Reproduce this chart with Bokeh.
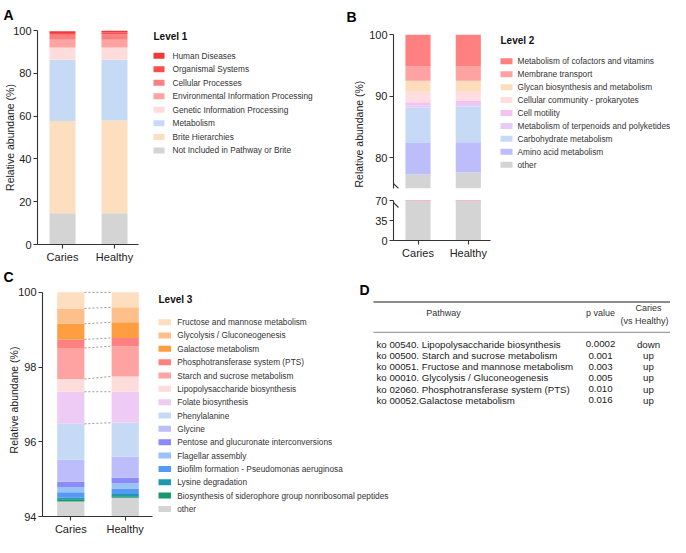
import numpy as np
from bokeh.plotting import figure
from bokeh.models import ColumnDataSource, Range1d, FixedTicker, Title
from bokeh.layouts import row, column
from bokeh.core.properties import value
from bokeh.embed import file_html
from bokeh.resources import INLINE

FONT = "Liberation Sans"

# ---------------- data ----------------
groups = ["Caries", "Healthy"]
group_x = [1, 2]

# Level 1 (legend order: top of stack first)
level1_labels = ["Human Diseases", "Organismal Systems", "Cellular Processes",
                 "Environmental Information Processing", "Genetic Information Processing",
                 "Metabolism", "Brite Hierarchies", "Not Included in Pathway or Brite"]
level1_caries = [0.8, 0.8, 2.3, 3.6, 5.8, 28.6, 43.1, 14.6]
level1_healthy = [0.9, 0.8, 2.6, 3.6, 5.8, 28.3, 43.4, 14.6]
level1_colors = ["#F03A3A", "#FF4C4C", "#F98080", "#FFA2A2", "#FFDCDC",
                 "#C6DAF6", "#FDDEBF", "#D4D4D4"]
level1_ticks = [0, 20, 40, 60, 80, 100]

# Level 2
level2_labels = ["Metabolism of cofactors and vitamins", "Membrane transport",
                 "Glycan biosynthesis and metabolism", "Cellular community - prokaryotes",
                 "Cell motility", "Metabolism of terpenoids and polyketides",
                 "Carbohydrate metabolism", "Amino acid metabolism", "other"]
level2_caries = [5.2, 2.3, 1.8, 1.7, 0.5, 0.4, 5.7, 5.1, 77.3]
level2_healthy = [5.1, 2.4, 1.8, 1.5, 0.5, 0.4, 5.8, 4.9, 77.6]
level2_colors = ["#FF8080", "#FFA2A2", "#FDDDBB", "#FFDDE0", "#F4C2F2", "#E6CCF8",
                 "#C6DAF6", "#BDBDFC", "#D4D4D4"]
level2_upper_ticks = [80, 90, 100]
level2_lower_ticks = [0, 35, 70]

# Level 3
level3_labels = ["Fructose and mannose metabolism", "Glycolysis / Gluconeogenesis",
                 "Galactose metabolism", "Phosphotransferase system (PTS)",
                 "Starch and sucrose metabolism", "Lipopolysaccharide biosynthesis",
                 "Folate biosynthesis", "Phenylalanine", "Glycine",
                 "Pentose and glucuronate interconversions", "Flagellar assembly",
                 "Biofilm formation - Pseudomonas aeruginosa", "Lysine degradation",
                 "Biosynthesis of siderophore group nonribosomal peptides", "other"]
level3_caries = [0.43, 0.41, 0.42, 0.23, 0.83, 0.34, 0.86, 0.96, 0.59, 0.14, 0.14,
                 0.15, 0.04, 0.06, 94.40]
level3_healthy = [0.40, 0.40, 0.42, 0.22, 0.81, 0.41, 0.83, 0.91, 0.56, 0.15, 0.14,
                  0.15, 0.06, 0.04, 94.50]
level3_colors = ["#FDDEBF", "#FDC08A", "#FF9E40", "#FF8080", "#FFA2A2", "#FFDCDC",
                 "#EECBF5", "#C6DAF6", "#BDBDFC", "#8A8AF8", "#99C2F7", "#5599F5",
                 "#1E9AB0", "#16976E", "#D4D4D4"]
level3_ticks = [94, 96, 98, 100]
level3_linked = 8  # top segments joined by dotted lines

# Table D
table_pathways = ["ko 00540. Lipopolysaccharide biosynthesis",
                  "ko 00500. Starch and sucrose metabolism",
                  "ko 00051. Fructose and mannose metabolism",
                  "ko 00010. Glycolysis / Gluconeogenesis",
                  "ko 02060. Phosphotransferase system (PTS)",
                  "ko 00052.Galactose metabolism"]
table_pvalues = ["0.0002", "0.001", "0.003", "0.005", "0.010", "0.016"]
table_direction = ["down", "up", "up", "up", "up", "up"]

BAR_W = 0.5


# ---------------- helpers ----------------
class Frame:
    """Plot frame in page pixels and its data ranges."""
    def __init__(self, left, top, right, bottom, x0, x1, y0, y1):
        self.left, self.top, self.right, self.bottom = left, top, right, bottom
        self.x0, self.x1, self.y0, self.y1 = x0, x1, y0, y1

    def x(self, px):
        return self.x0 + (px - self.left) / (self.right - self.left) * (self.x1 - self.x0)

    def y(self, py):
        return self.y1 - (py - self.top) / (self.bottom - self.top) * (self.y1 - self.y0)


def x_from(center_px, ppu, left, right):
    x0 = 1 - (center_px - left) / ppu
    return x0, x0 + (right - left) / ppu


def make_fig(fl, ft, w, h, fr, x_axis=True):
    p = figure(width=w, height=h,
               x_range=Range1d(fr.x0, fr.x1), y_range=Range1d(fr.y0, fr.y1),
               output_backend="svg", toolbar_location=None,
               x_axis_location="below" if x_axis else None,
               min_border_left=int(round(fr.left - fl)), min_border_top=int(round(fr.top - ft)),
               min_border_right=int(round(fl + w - fr.right)),
               min_border_bottom=int(round(ft + h - fr.bottom)))
    p.outline_line_color = None
    p.background_fill_color = "white"
    p.border_fill_color = "white"
    for g in p.grid:
        g.visible = False
    for ax in p.axis:
        ax.axis_line_color = "#333333"
        ax.axis_line_width = 1.1
        ax.major_tick_line_color = "#333333"
        ax.major_tick_line_width = 1.1
        ax.major_tick_out = 4
        ax.major_tick_in = 0
        ax.minor_tick_line_color = None
        ax.major_label_text_font = FONT
        ax.major_label_text_font_size = "11px"
        ax.major_label_text_color = "#222222"
        ax.major_label_standoff = 2
        ax.axis_label_text_font = FONT
        ax.axis_label_text_font_size = "10.5px"
        ax.axis_label_text_font_style = "normal"
        ax.axis_label_text_color = "#222222"
    return p


def set_standoff(t, s):
    try:
        t.standoff = s
    except Exception:
        pass


def letter(p, text, offset, standoff, valign):
    p.title.text = text
    p.title.align = "left"
    p.title.offset = offset
    p.title.vertical_align = valign
    p.title.text_font = FONT
    p.title.text_font_size = "14px"
    p.title.text_font_style = "bold"
    p.title.text_color = "#000000"
    set_standoff(p.title, standoff)


def set_x_axis(p, bound_start, bound_end):
    p.xaxis.ticker = FixedTicker(ticks=group_x)
    p.xaxis.major_label_overrides = {gx: g for gx, g in zip(group_x, groups)}
    p.xaxis.bounds = (bound_start, bound_end)


def stack_bars(p, labels, car, hea, colors):
    keys = ["s%d" % i for i in range(len(labels))]
    data = {"x": group_x}
    for k, c, h in zip(keys, car, hea):
        data[k] = [c, h]
    src = ColumnDataSource(data)
    return p.vbar_stack(keys[::-1], x="x", width=BAR_W, source=src,
                        fill_color=colors[::-1], line_color=None)


def draw_legend(p, fr, title, labels, colors, left, title_cy, first_cy, pitch,
                sw_w, sw_h, text_left):
    n = len(labels)
    p.text(x=[fr.x(left)], y=[fr.y(title_cy)], text=[title],
           text_font=value(FONT), text_font_size="10px", text_font_style="bold",
           text_baseline="middle", text_align="left", text_color="#111111")
    ys = [fr.y(first_cy + i * pitch) for i in range(n)]
    p.rect(x=[fr.x(left + sw_w / 2)] * n, y=ys, width=sw_w, height=sw_h,
           width_units="screen", height_units="screen",
           fill_color=colors, line_color=None)
    p.text(x=[fr.x(text_left)] * n, y=ys, text=labels,
           text_font=value(FONT), text_font_size="8.3px",
           text_baseline="middle", text_align="left", text_color="#333333")


# ---------------- Panel A ----------------
ax0, ax1 = x_from(62, 52, 37, 343)
FA = Frame(37, 29, 343, 244, ax0, ax1, 0, 100)
pA = make_fig(0, 0, 343, 265, FA)
stack_bars(pA, level1_labels, level1_caries, level1_healthy, level1_colors)
set_x_axis(pA, ax0, 2.47)
pA.yaxis.ticker = FixedTicker(ticks=level1_ticks)
pA.yaxis.axis_label = "Relative abundane (%)"
pA.yaxis.axis_label_standoff = -6
draw_legend(pA, FA, "Level 1", level1_labels, level1_colors,
            153, 35, 54.3, 13.6, 11, 6, 172)
letter(pA, "A", 3 - 37, 12, "top")

# ---------------- Panel B (broken axis) ----------------
bx0, bx1 = x_from(417.5, 50.3, 393, 670)
FBu = Frame(393, 33, 670, 188, bx0, bx1, 75, 100)
FBl = Frame(393, 200, 670, 240, bx0, bx1, 0, 70)
pBu = make_fig(343, 0, 327, 194, FBu, x_axis=False)
pBl = make_fig(343, 194, 327, 71, FBl)
pBl.x_range = pBu.x_range
stack_bars(pBu, level2_labels, level2_caries, level2_healthy, level2_colors)
stack_bars(pBl, level2_labels, level2_caries, level2_healthy, level2_colors)
pBu.yaxis.ticker = FixedTicker(ticks=level2_upper_ticks)
pBl.yaxis.ticker = FixedTicker(ticks=level2_lower_ticks)
set_x_axis(pBl, bx0, 2.45)
draw_legend(pBu, FBu, "Level 2", level2_labels, level2_colors,
            500, 39, 60, 13, 12, 6, 517)
ylab_B = Title(text="Relative abundane (%)", align="left", offset=1,
               text_font=FONT, text_font_size="10.5px", text_font_style="normal",
               text_color="#222222")
set_standoff(ylab_B, 4)
pBu.add_layout(ylab_B, "left")
letter(pBu, "B", 346 - 393, 16, "top")
# axis break marks (inside the frame)
pBu.segment(x0=[FBu.x(391)], y0=[FBu.y(181)], x1=[FBu.x(398)], y1=[FBu.y(188)],
            line_color="#333333", line_width=1.1)
pBl.segment(x0=[FBl.x(391)], y0=[FBl.y(200)], x1=[FBl.x(398)], y1=[FBl.y(207)],
            line_color="#333333", line_width=1.1)

# ---------------- Panels C + D (one canvas) ----------------
cx0, cx1 = x_from(70.3, 54.4, 42, 670)
c_ppu = (520 - 292) / 6.0
FC = Frame(42, 283, 670, 520, cx0, cx1, 94, 100 + (292 - 283) / c_ppu)
pC = make_fig(0, 265, 670, 272, FC)
stack_bars(pC, level3_labels, level3_caries, level3_healthy, level3_colors)
set_x_axis(pC, cx0, 2.5)
pC.yaxis.ticker = FixedTicker(ticks=level3_ticks)
pC.yaxis.bounds = (94, 100)
pC.yaxis.axis_label = "Relative abundane (%)"
pC.yaxis.axis_label_standoff = -5
car_tops = [sum(level3_caries) - sum(level3_caries[:i]) for i in range(level3_linked)]
hea_tops = [sum(level3_healthy) - sum(level3_healthy[:i]) for i in range(level3_linked)]
pC.segment(x0=[group_x[0] + BAR_W / 2] * level3_linked, y0=car_tops,
           x1=[group_x[1] - BAR_W / 2] * level3_linked, y1=hea_tops,
           line_color="#8c8c8c", line_width=0.9, line_dash="2 2")
draw_legend(pC, FC, "Level 3", level3_labels, level3_colors,
            158, 299.3, 322.3, 13.57, 12.5, 6, 176.7)
letter(pC, "C", 3 - 42, -3, "bottom")

# table D
pC.text(x=[FC.x(359)], y=[FC.y(290)], text=["D"], text_font=value(FONT),
        text_font_size="14px", text_font_style="bold", text_baseline="middle",
        text_align="left", text_color="#000000")
pC.segment(x0=[FC.x(373)], y0=[FC.y(301.7)], x1=[FC.x(670)], y1=[FC.y(301.7)],
           line_color="#8c8c8c", line_width=2)
pC.segment(x0=[FC.x(373)], y0=[FC.y(332.7)], x1=[FC.x(670)], y1=[FC.y(332.7)],
           line_color="#a0a0a0", line_width=1.2)
hdr = dict(text_font=value(FONT), text_font_size="9px", text_baseline="middle",
           text_align="center", text_color="#333333")
pC.text(x=[FC.x(443), FC.x(600), FC.x(648), FC.x(644)],
        y=[FC.y(313.3), FC.y(313.3), FC.y(308.3), FC.y(321)],
        text=["Pathway", "p value", "Caries", "(vs Healthy)"], **hdr)
row_y = [FC.y(345 + i * 11.35) for i in range(len(table_pathways))]
cell = dict(text_font=value(FONT), text_font_size="9.7px", text_baseline="middle",
            text_color="#1a1a1a")
pC.text(x=[FC.x(376)] * len(row_y), y=row_y, text=table_pathways, text_align="left", **cell)
pC.text(x=[FC.x(600)] * len(row_y), y=row_y, text=table_pvalues, text_align="center", **cell)
pC.text(x=[FC.x(648)] * len(row_y), y=row_y, text=table_direction, text_align="center", **cell)

layout = column(row(pA, column(pBu, pBl)), pC)
open("out.html", "w").write(file_html(layout, INLINE))
